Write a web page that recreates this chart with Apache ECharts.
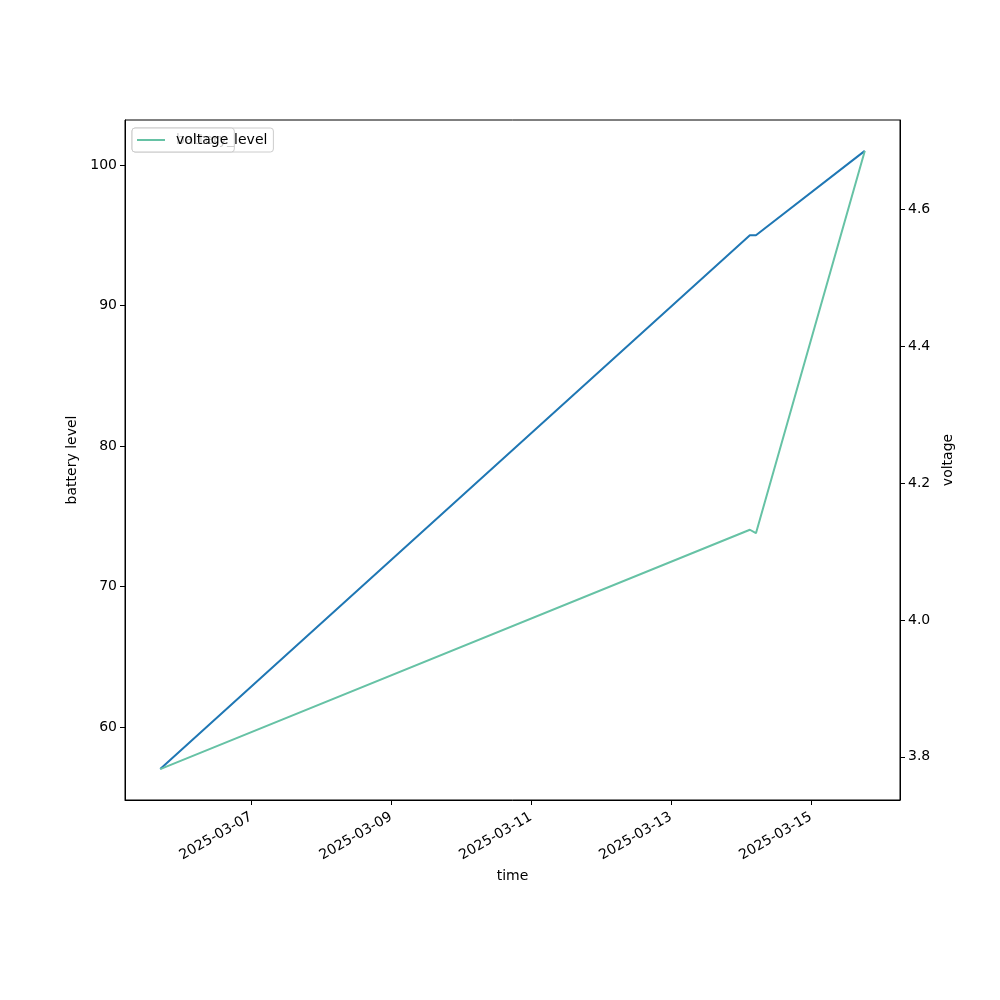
<!DOCTYPE html>
<html><head><meta charset="utf-8">
<script src="https://cdn.jsdelivr.net/npm/echarts@6/dist/echarts.min.js"></script>
<style>html,body{margin:0;padding:0;background:#fff}#c{width:1000px;height:1000px}</style>
</head><body><div id="c"></div>
<script>
const times = ['2025-03-05T16:48:00', '2025-03-14T03:05:00', '2025-03-14T05:10:00', '2025-03-15T18:30:00'];
const batteryLevel = [57, 95, 95, 101];
const voltage = [3.782, 4.132, 4.127, 4.686];
const xTickLabels = ['2025-03-07', '2025-03-09', '2025-03-11', '2025-03-13', '2025-03-15'];
const leftTicks = [60, 70, 80, 90, 100];
const rightTicks = [3.8, 4.0, 4.2, 4.4, 4.6];

const ts = times.map(t => new Date(t).getTime());
const xTickVals = xTickLabels.map(d => new Date(d + 'T00:00:00').getTime());
const pad = (a, b) => { const s = (b - a) * 0.05; return [a - s, b + s]; };
const [xMin, xMax] = pad(Math.min(...ts), Math.max(...ts));
const [lMin, lMax] = pad(Math.min(...batteryLevel), Math.max(...batteryLevel));
const [rMin, rMax] = pad(Math.min(...voltage), Math.max(...voltage));
const two = n => String(n).padStart(2, '0');
const fmtDate = v => { const d = new Date(v); return d.getFullYear() + '-' + two(d.getMonth() + 1) + '-' + two(d.getDate()); };

const font = 'DejaVu Sans';
const FS = 14;
const txt = { color: '#000', fontFamily: font, fontSize: FS };
const chart = echarts.init(document.getElementById('c'), null, { renderer: 'canvas' });
chart.setOption({
  animation: false,
  backgroundColor: '#fff',
  textStyle: { fontFamily: font },
  grid: { left: 125, right: 100, top: 120, bottom: 200, show: true, borderColor: '#000', borderWidth: 1, backgroundColor: 'transparent', containLabel: false },
  legend: [
    { data: ['battery_level'], left: 132, top: 128, orient: 'vertical', padding: [5, 6, 5, 5], itemWidth: 28, itemHeight: 2, icon: 'rect',
      backgroundColor: 'rgba(255,255,255,0.8)', borderColor: '#ccc', borderWidth: 1, borderRadius: 3, z: 10,
      textStyle: Object.assign({}, txt, { padding: [0, 0, 0, 6] }) },
    { data: ['voltage'], left: 132, top: 128, orient: 'vertical', padding: [5, 6, 5, 5], itemWidth: 28, itemHeight: 2, icon: 'rect',
      backgroundColor: 'rgba(255,255,255,0.8)', borderColor: '#ccc', borderWidth: 1, borderRadius: 3, z: 11,
      textStyle: Object.assign({}, txt, { padding: [0, 0, 0, 6] }) }
  ],
  xAxis: {
    type: 'value', min: xMin, max: xMax, scale: true,
    name: 'time', nameLocation: 'middle', nameGap: 66, nameTextStyle: txt,
    axisLine: { show: true, onZero: false, lineStyle: { color: '#000', width: 1 } },
    axisTick: { show: true, length: 5, lineStyle: { color: '#000' }, customValues: xTickVals },
    axisLabel: { customValues: xTickVals, rotate: 30, formatter: v => fmtDate(v), margin: 16, color: '#000', fontFamily: font, fontSize: FS },
    splitLine: { show: false }
  },
  yAxis: [
    { type: 'value', min: lMin, max: lMax, position: 'left',
      name: 'battery level', nameLocation: 'middle', nameGap: 41, nameRotate: 90, nameTextStyle: txt,
      axisLine: { show: true, lineStyle: { color: '#000' } },
      axisTick: { show: true, length: 5, lineStyle: { color: '#000' }, customValues: leftTicks },
      axisLabel: { customValues: leftTicks, margin: 8, color: '#000', fontFamily: font, fontSize: FS },
      splitLine: { show: false } },
    { type: 'value', min: rMin, max: rMax, position: 'right',
      name: 'voltage', nameLocation: 'middle', nameGap: 35, nameRotate: 90, nameTextStyle: txt,
      axisLine: { show: true, lineStyle: { color: '#000' } },
      axisTick: { show: true, length: 5, lineStyle: { color: '#000' }, customValues: rightTicks },
      axisLabel: { customValues: rightTicks, margin: 8, color: '#000', fontFamily: font, fontSize: FS, formatter: v => v.toFixed(1) },
      splitLine: { show: false } }
  ],
  series: [
    { name: 'battery_level', type: 'line', yAxisIndex: 0, symbol: 'none', color: '#1f77b4',
      lineStyle: { width: 2, color: '#1f77b4' }, data: ts.map((t, i) => [t, batteryLevel[i]]) },
    { name: 'voltage', type: 'line', yAxisIndex: 1, symbol: 'none', color: '#66c2a5',
      lineStyle: { width: 2, color: '#66c2a5' }, data: ts.map((t, i) => [t, voltage[i]]) }
  ]
});
</script></body></html>
